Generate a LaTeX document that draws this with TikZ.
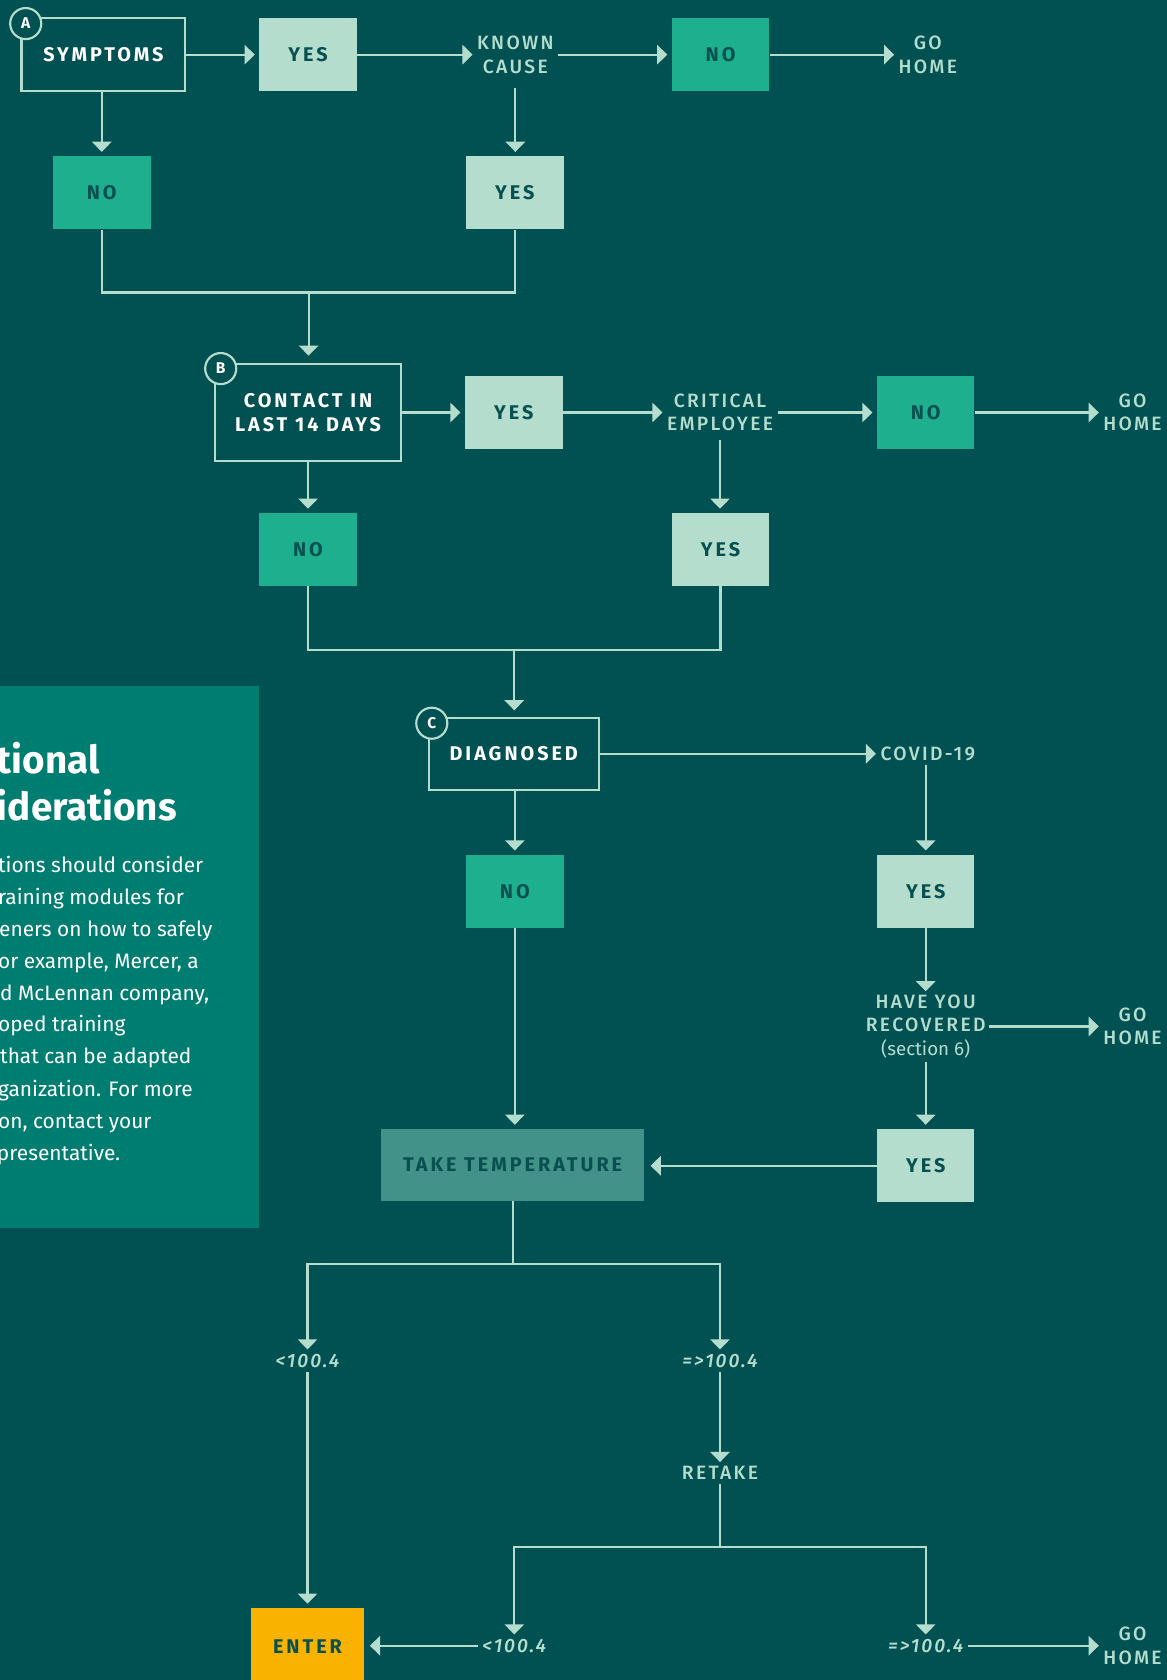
\documentclass[tikz,border=0pt]{standalone}
\usepackage{fontspec}
\setmainfont{Fira Sans}
\newfontfamily\capsfont[LetterSpace=12]{Fira Sans}
\newfontfamily\boxfont[LetterSpace=15]{Fira Sans}
\IfFontExistsTF{Fira Sans Medium}
  {\newfontfamily\medfont[LetterSpace=12]{Fira Sans Medium}}
  {\newcommand\medfont{\capsfont}}
\IfFontExistsTF{Fira Sans Medium Italic}
  {\newfontfamily\meditfont[LetterSpace=10]{Fira Sans Medium Italic}}
  {\newcommand\meditfont{\capsfont\itshape}}
\usetikzlibrary{arrows.meta}
\definecolor{bg}{RGB}{1,80,82}
\definecolor{mint}{RGB}{180,221,205}
\definecolor{nogreen}{RGB}{30,175,142}
\definecolor{dark}{RGB}{8,80,80}
\definecolor{ttbox}{RGB}{67,146,138}
\definecolor{enterc}{RGB}{249,178,0}
\definecolor{panel}{RGB}{0,125,113}
\tikzset{
  base/.style={font=\boxfont\bfseries\fontsize{18.5}{23}\selectfont, align=center, inner sep=0pt},
  yesbox/.style={base, fill=mint, text=dark, minimum width=91pt, minimum height=68pt},
  nobox/.style={base, fill=nogreen, text=dark, minimum width=91pt, minimum height=68pt},
  outbox/.style={base, draw=mint, line width=2pt, text=white},
  lbl/.style={font=\medfont\fontsize{18}{22}\selectfont, text=mint, align=center, inner sep=4pt},
  numlbl/.style={font=\meditfont\fontsize{18}{22}\selectfont, text=mint, align=center, inner sep=4pt},
  circ/.style={circle, draw=mint, fill=bg, line width=2pt, text=white, minimum size=29pt, inner sep=0pt, font=\bfseries\fontsize{14.5}{14.5}\selectfont},
  ln/.style={draw=mint, line width=2pt},
  arr/.style={ln, -{Triangle[length=9.5pt,width=18pt]}},
  body/.style={anchor=base west, text=white, inner sep=0pt, font=\fontsize{19.5}{30}\selectfont},
  head/.style={anchor=base west, text=white, inner sep=0pt, font=\bfseries\fontsize{36}{45}\selectfont},
}
\begin{document}
\begin{tikzpicture}[x=1pt,y=-1pt]
\useasboundingbox (0,0) rectangle (1089,1568);
\fill[bg] (0,0) rectangle (1089,1568);

% side panel
\begin{scope}
\clip (0,640) rectangle (242,1146);
\fill[panel] (0,640) rectangle (242,1146);
\node[head] (h1) at (-3,722) {tional};
\node[head] (h2) at (-3,766) {iderations};
\node[body] (b1) at (-2,814) {tions should consider};
\node[body] (b2) at (-2,844) {raining modules for};
\node[body] (b3) at (-1,874) {eners on how to safely};
\node[body] (b4) at (-2,904) {or example, Mercer, a};
\node[body] (b5) at (0,934) {d McLennan company,};
\node[body] (b6) at (-2,963) {oped training};
\node[body] (b7) at (0,993) {that can be adapted};
\node[body] (b8) at (-2,1023) {ganization. For more};
\node[body] (b9) at (-2,1053) {on, contact your};
\node[body] (b10) at (-3,1083) {presentative.};
\end{scope}

% Row A
\node[outbox, minimum width=153pt, minimum height=68pt] (sym) at (96.5,51) {SYMPTOMS};
\node[yesbox] (yes1) at (287.5,51) {YES};
\node[lbl] (kc) at (481,51) {KNOWN\\CAUSE};
\node[nobox] (no1) at (672.5,51) {NO};
\node[lbl] (gh1) at (866,51) {GO\\HOME};
\node[nobox] (no2) at (95,180) {NO};
\node[yesbox] (yes2) at (480.5,180) {YES};
\coordinate (j1) at (288,273);

\draw[arr, shorten >=4pt] (sym.east) -- (yes1.west);
\draw[arr] (yes1.east) -- (kc.west);
\draw[arr, shorten >=4pt] (kc.east) -- (no1.west);
\draw[arr] (no1.east) -- (gh1.west);
\draw[arr, shorten >=4pt] (sym.south -| no2.north) -- (no2.north);
\draw[arr, shorten >=4pt, shorten <=9pt] (kc.south) -- (kc.south |- yes2.north);
\draw[ln] (no2.south) |- (j1) -| (yes2.south);

% Row B
\node[outbox, minimum width=173pt, minimum height=90pt] (cb) at (287.5,385) {CONTACT IN\\LAST 14 DAYS};
\node[yesbox] (yes3) at (479.5,385) {YES};
\node[lbl] (crit) at (672,385) {CRITICAL\\EMPLOYEE};
\node[nobox] (no3) at (864,385) {NO};
\node[lbl] (gh2) at (1057,385) {GO\\HOME};
\node[nobox] (no4) at (287.5,513) {NO};
\node[yesbox] (yes4) at (672.5,513) {YES};
\coordinate (j2) at (480,607);

\draw[arr, shorten >=7pt] (j1) -- (j1 |- cb.north);
\draw[arr, shorten >=4pt] (cb.east) -- (yes3.west);
\draw[arr] (yes3.east) -- (crit.west);
\draw[arr, shorten >=4pt] (crit.east) -- (no3.west);
\draw[arr] (no3.east) -- (gh2.west);
\draw[arr, shorten >=4pt] (cb.south) -- (cb.south |- no4.north);
\draw[arr, shorten >=4pt, shorten <=4pt] (crit.south) -- (crit.south |- yes4.north);
\draw[ln] (no4.south) |- (j2) -| (yes4.south);

% Row C
\node[outbox, minimum width=159pt, minimum height=67pt] (diag) at (479.5,703.5) {DIAGNOSED};
\node[lbl] (covid) at (866,703.5) {COVID-19};
\node[nobox] (no5) at (480.5,832) {NO};
\node[yesbox] (yes5) at (864,832) {YES};
\node[lbl, inner sep=3pt] (recov) at (864,958) {HAVE YOU\\RECOVERED\\{\fontspec{Fira Sans}\fontsize{17.5}{22}\selectfont(section 6)}};
\node[lbl] (gh3) at (1057,958) {GO\\HOME};
\node[yesbox] (yes6) at (864,1088) {YES};
\node[base, fill=ttbox, text=dark, minimum width=245pt, minimum height=67pt] (tt) at (478.5,1087.5) {TAKE TEMPERATURE};

\draw[arr, shorten >=6pt] (j2) -- (j2 |- diag.north);
\draw[arr] (diag.east) -- (diag.east -| covid.west);
\draw[arr, shorten >=4pt] (diag.south -| no5.north) -- (no5.north);
\draw[arr, shorten >=4pt] (yes5.north |- covid.south) -- (yes5.north);
\draw[arr, shorten >=4pt] (no5.south) -- (no5.south |- tt.north);
\draw[arr] (yes5.south) -- (yes5.south |- recov.north);
\draw[arr] (recov.east) -- (recov.east -| gh3.west);
\draw[arr, shorten >=4pt] (yes6.north |- recov.south) -- (yes6.north);
\draw[arr, shorten >=6pt] (yes6.west) -- (yes6.west -| tt.east);

% Temperature section
\coordinate (j3) at (479,1180);
\node[numlbl] (lt1) at (287,1270) {<100.4};
\node[numlbl] (ge1) at (672,1270) {=>100.4};
\node[lbl] (retake) at (672,1375) {RETAKE};
\coordinate (j4) at (672,1444);
\node[numlbl] (lt2) at (480,1536) {<100.4};
\node[numlbl] (ge2) at (864,1536) {=>100.4};
\node[base, fill=enterc, text=dark, minimum width=106pt, minimum height=72pt] (enter) at (287,1537) {ENTER};
\node[lbl] (gh4) at (1057,1536) {GO\\HOME};

\draw[ln] (j3 |- tt.south) -- (j3);
\draw[arr] (j3) -| (lt1.north);
\draw[arr] (j3) -| (ge1.north);
\draw[arr, shorten >=4pt] (lt1.south) -- (lt1.south |- enter.north);
\draw[arr] (ge1.south) -- (retake.north);
\draw[ln] (retake.south) -- (j4);
\draw[arr] (j4) -| (lt2.north);
\draw[arr] (j4) -| (ge2.north);
\draw[arr, shorten >=5pt] (lt2.west) -- (lt2.west -| enter.east);
\draw[arr] (ge2.east) -- (ge2.east -| gh4.west);

% circles
\node[circ] (ca) at (24,22) {A};
\node[circ] (cbb) at (206,344) {B};
\node[circ] (cc) at (403,675) {C};
\end{tikzpicture}
\end{document}
